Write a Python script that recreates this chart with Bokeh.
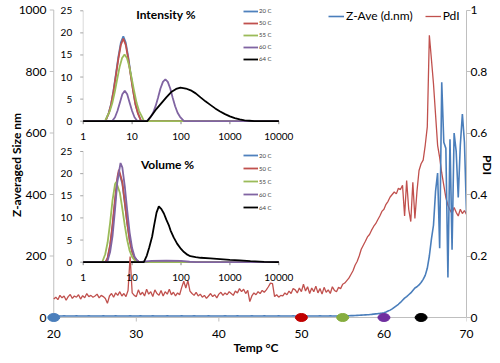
from bokeh.plotting import figure
from bokeh.models import (Range1d, LinearAxis, LogScale, FixedTicker, Label, LabelSet,
                          ColumnDataSource, Legend, LegendItem)
from bokeh.embed import file_html
from bokeh.resources import INLINE
from bokeh.core.properties import value

# ---------------- main series (Temp °C vs Z-Ave and PdI) ----------------
temp = [20, 20.25, 20.5, 20.75, 21, 21.25, 21.5, 21.75, 22, 22.25, 22.5, 22.75, 23, 23.25, 23.5, 23.75, 24, 24.25, 24.5, 24.75,
        25, 25.25, 25.5, 25.75, 26, 26.25, 26.5, 26.75, 27, 27.25, 27.5, 27.75, 28, 28.25, 28.5, 28.75, 29, 29.25, 29.5, 29.75,
        30, 30.25, 30.5, 30.75, 31, 31.25, 31.5, 31.75, 32, 32.25, 32.5, 32.75, 33, 33.25, 33.5, 33.75, 34, 34.25, 34.5, 34.75,
        35, 35.25, 35.5, 35.75, 36, 36.25, 36.5, 36.75, 37, 37.25, 37.5, 37.75, 38, 38.25, 38.5, 38.75, 39, 39.25, 39.5, 39.75,
        40, 40.25, 40.5, 40.75, 41, 41.25, 41.5, 41.75, 42, 42.25, 42.5, 42.75, 43, 43.25, 43.5, 43.75, 44, 44.25, 44.5, 44.75,
        45, 45.25, 45.5, 45.75, 46, 46.25, 46.5, 46.75, 47, 47.25, 47.5, 47.75, 48, 48.25, 48.5, 48.75, 49, 49.25, 49.5, 49.75,
        50, 50.25, 50.5, 50.75, 51, 51.25, 51.5, 51.75, 52, 52.25, 52.5, 52.75, 53, 53.25, 53.5, 53.75, 54, 54.25, 54.5, 54.75,
        55, 55.25, 55.5, 55.75, 56, 56.25, 56.5, 56.75, 57, 57.25, 57.5, 57.75, 58, 58.25, 58.5, 58.75, 59, 59.25, 59.5, 59.75,
        60, 60.25, 60.5, 60.75, 61, 61.25, 61.5, 61.75, 62, 62.25, 62.5, 62.75, 63, 63.25, 63.5, 63.75, 64, 64.25, 64.5, 64.75,
        65, 65.25, 65.5, 65.75, 66, 66.25, 66.5, 66.75, 67, 67.25, 67.5, 67.75, 68, 68.25, 68.5, 68.75, 69, 69.25, 69.5, 69.75,
        70]

pdi = [0.060, 0.066, 0.058, 0.072, 0.064, 0.070, 0.056, 0.068, 0.075, 0.062, 0.070, 0.066, 0.074, 0.060, 0.071, 0.064, 0.078, 0.068, 0.072, 0.066,
       0.070, 0.076, 0.064, 0.072, 0.068, 0.062, 0.046, 0.070, 0.078, 0.066, 0.080, 0.072, 0.084, 0.070, 0.078, 0.068, 0.088, 0.198, 0.080, 0.072,
       0.068, 0.090, 0.074, 0.082, 0.070, 0.092, 0.076, 0.084, 0.068, 0.090, 0.078, 0.072, 0.088, 0.070, 0.084, 0.076, 0.092, 0.074, 0.082, 0.070,
       0.080, 0.074, 0.098, 0.118, 0.096, 0.120, 0.086, 0.078, 0.072, 0.082, 0.070, 0.076, 0.066, 0.072, 0.062, 0.070, 0.078, 0.068, 0.074, 0.064,
       0.076, 0.082, 0.072, 0.080, 0.074, 0.084, 0.078, 0.072, 0.086, 0.080, 0.094, 0.084, 0.092, 0.078, 0.088, 0.052, 0.070, 0.080, 0.074, 0.084,
       0.078, 0.088, 0.082, 0.090, 0.100, 0.112, 0.110, 0.068, 0.074, 0.066, 0.072, 0.070, 0.080, 0.074, 0.086, 0.078, 0.094, 0.090, 0.080, 0.096,
       0.084, 0.108, 0.086, 0.100, 0.078, 0.096, 0.084, 0.102, 0.080, 0.094, 0.076, 0.098, 0.082, 0.090, 0.078, 0.100, 0.088, 0.084, 0.098, 0.094,
       0.108, 0.112, 0.120, 0.128, 0.140, 0.152, 0.170, 0.182, 0.200, 0.222, 0.235, 0.248, 0.262, 0.270, 0.284, 0.296, 0.305, 0.318, 0.330, 0.345,
       0.352, 0.368, 0.378, 0.392, 0.400, 0.408, 0.402, 0.420, 0.416, 0.430, 0.330, 0.445, 0.352, 0.312, 0.440, 0.322, 0.410, 0.478, 0.500, 0.512,
       0.560, 0.620, 0.918, 0.840, 0.760, 0.660, 0.560, 0.520, 0.470, 0.430, 0.390, 0.365, 0.350, 0.338, 0.358, 0.342, 0.330, 0.352, 0.338, 0.348,
       0.335]

z_ave = [5.2, 5.0, 5.1, 4.9, 5.0, 5.2, 5.1, 5.0, 4.9, 5.1, 5.0, 5.2, 5.1, 4.9, 5.0, 5.1, 5.0, 5.2, 5.1, 5.0,
         5.1, 5.0, 4.9, 5.1, 5.2, 5.0, 5.1, 4.9, 5.0, 5.1, 5.2, 5.0, 5.1, 5.0, 4.9, 5.1, 5.0, 5.2, 5.1, 5.0,
         5.0, 5.1, 5.2, 5.0, 4.9, 5.1, 5.0, 5.1, 5.2, 5.0, 5.1, 4.9, 5.0, 5.1, 5.0, 5.2, 5.1, 5.0, 5.0, 5.1,
         5.1, 5.0, 5.2, 5.1, 4.9, 5.0, 5.1, 5.0, 5.2, 5.1, 5.0, 4.9, 5.1, 5.0, 5.1, 5.2, 5.0, 5.1, 5.0, 4.9,
         5.0, 5.1, 5.0, 5.2, 5.1, 5.0, 4.9, 5.1, 5.0, 5.2, 5.1, 5.0, 5.1, 4.9, 5.0, 5.1, 5.2, 5.0, 5.1, 5.0,
         5.1, 5.0, 5.2, 5.1, 5.0, 5.1, 4.9, 5.0, 5.1, 5.2, 5.0, 5.1, 5.0, 5.1, 4.9, 5.0, 5.2, 5.1, 5.0, 5.1,
         5.0, 5.1, 5.2, 5.0, 5.1, 4.9, 5.0, 5.1, 5.0, 5.2, 5.1, 5.0, 5.1, 5.0, 5.2, 5.1, 5.0, 5.1, 5.2, 5.1,
         5.2, 5.4, 5.6, 5.8, 6.0, 6.2, 6.5, 6.9, 7.2, 7.6, 8.0, 8.5, 9.0, 9.5, 10.2, 11.0, 11.8, 12.6, 13.5, 14.5,
         15.6, 18, 21, 24, 28, 33, 38, 43, 49, 56, 63, 68, 74, 80, 88, 96, 100, 106, 114, 124,
         137, 160, 200, 255, 300, 410, 470, 225, 765, 570, 550, 130, 580, 220, 600, 540, 390, 560, 662, 570,
         340]

dot_temp = [20, 50, 55, 60, 64.5]
dot_colors = ["#4A7EBB", "#C00000", "#86AD3F", "#7030A0", "#000000"]

temp_ticks = [20, 30, 40, 50, 60, 70]
size_ticks = [0, 200, 400, 600, 800, 1000]
pdi_ticks = [0, 0.2, 0.4, 0.6, 0.8, 1]
pdi_tick_labels = ["0", "0.2", "0.4", "0.6", "0.8", "1"]

# ---------------- inset series (size nm vs %) ----------------
series_labels = ["20 C", "50 C", "55 C", "60 C", "64 C"]
series_colors = ["#4F81BD", "#C0504D", "#9BBB59", "#8064A2", "#000000"]

int20_d = [1, 2.85, 3.31, 3.72, 4.17, 4.68, 5.25, 5.89, 6.61, 7.41, 8.32, 9.33, 10.5, 11.7, 13.2, 15.3, 10000]
int20_v = [0, 0, 1.8, 3.9, 7.0, 10.8, 14.6, 17.8, 19.2, 17.8, 14.6, 10.8, 7.0, 3.9, 1.8, 0, 0]
int50_d = [1, 2.85, 3.31, 3.72, 4.17, 4.68, 5.25, 5.89, 6.61, 7.41, 8.32, 9.33, 10.5, 11.7, 13.2, 15.3, 10000]
int50_v = [0, 0, 1.7, 3.8, 6.8, 10.5, 14.2, 17.3, 18.7, 17.3, 14.2, 10.5, 6.8, 3.8, 1.7, 0, 0]
int55_d = [1, 2.79, 3.13, 3.51, 3.94, 4.42, 4.95, 5.56, 6.24, 7.0, 7.85, 8.81, 9.89, 11.1, 12.4, 13.9, 15.6, 17.5, 10000]
int55_v = [0, 0, 1.2, 2.3, 4.1, 6.6, 9.5, 12.3, 14.3, 15.1, 14.3, 12.3, 9.5, 6.6, 4.1, 2.3, 1.2, 0, 0]
int60_d = [1, 3.89, 4.47, 5.01, 5.62, 6.31, 7.08, 7.94, 8.91, 10.0, 11.2, 12.9,
           20.0, 24.0, 26.9, 30.2, 33.9, 38.0, 42.7, 47.9, 53.7, 60.3, 67.6, 75.9, 85.1, 95.5, 115, 10000]
int60_v = [0, 0, 0.9, 2.3, 4.2, 6.1, 6.9, 6.1, 4.2, 2.3, 0.9, 0,
           0, 1.0, 1.9, 3.4, 5.3, 7.4, 8.9, 9.5, 8.9, 7.4, 5.3, 3.4, 1.9, 1.0, 0, 0]
int64_d = [1, 20.4, 25.1, 31.6, 39.8, 50.1, 63.1, 79.4, 97.7, 126, 158, 200, 251, 316, 398, 501, 631, 794,
           1000, 1259, 1585, 1995, 2512, 3162, 10000]
int64_v = [0, 0, 1.3, 2.8, 4.1, 5.4, 6.6, 7.3, 7.6, 7.4, 7.0, 6.3, 5.4, 4.5, 3.7, 2.9, 2.2, 1.6,
           1.1, 0.7, 0.4, 0.2, 0.1, 0, 0]

vol20_d = [1, 2.86, 3.16, 3.55, 3.98, 4.47, 5.01, 5.37, 6.31, 7.08, 7.94, 8.91, 10.0, 11.2, 12.6, 14.1, 10000]
vol20_v = [0, 0, 0.9, 3.6, 8.0, 13.5, 18.6, 20.4, 17.8, 13.4, 8.8, 5.0, 2.4, 1.0, 0.4, 0, 0]
vol50_d = [1, 2.86, 3.16, 3.55, 3.98, 4.47, 5.01, 5.37, 6.31, 7.08, 7.94, 8.91, 10.0, 11.2, 12.6, 14.1, 10000]
vol50_v = [0, 0, 1.0, 3.9, 8.6, 14.2, 19.2, 20.9, 18.1, 13.6, 8.9, 5.0, 2.4, 1.0, 0.4, 0, 0]
vol55_d = [1, 2.44, 2.82, 3.16, 3.55, 3.98, 4.47, 4.73, 5.62, 6.31, 7.08, 7.94, 8.91, 10.0, 11.2, 13.2, 10000]
vol55_v = [0, 0, 1.8, 4.5, 8.9, 14.0, 17.6, 18.1, 15.7, 12.1, 8.3, 5.0, 2.6, 1.2, 0.5, 0, 0]
vol60_d = [1, 3.09, 3.55, 3.98, 4.47, 5.01, 5.8, 6.31, 7.08, 7.94, 8.91, 10.0, 11.2, 12.6, 14.1,
           17.0, 25.0, 50.0, 100, 150, 200, 10000]
vol60_v = [0, 0, 2.3, 5.9, 11.8, 18.4, 22.4, 21.4, 17.2, 11.7, 6.7, 3.2, 1.3, 0.4, 0,
           0.1, 0.3, 0.35, 0.3, 0.1, 0, 0]
vol64_d = [1, 17.4, 20.0, 22.4, 25.7, 28.2, 31.6, 35.2, 39.8, 44.7, 50.1, 56.2, 61.0, 70.8, 83.2, 100, 115,
           135, 155, 200, 251, 398, 631, 1000, 1585, 2630, 5012, 9120, 10000]
vol64_v = [0, 0, 1.5, 3.3, 5.8, 8.3, 11.2, 12.6, 12.0, 11.0, 9.6, 8.4, 7.2, 5.6, 4.2, 3.0, 2.3,
           1.7, 1.36, 1.15, 1.0, 0.85, 0.7, 0.53, 0.4, 0.23, 0.08, 0, 0]

inset_x_ticks = [1, 10, 100, 1000, 10000]
inset_x_labels = ["1", "10", "100", "1000", "10000"]
inset_y_ticks = [0, 5, 10, 15, 20, 25]
inset_y_labels = ["0", "5", "10", "15", "20", "25"]

# ---------------- layout constants (canvas pixels) ----------------
W, H = 500, 363
F_L, F_R, F_T, F_B = 45, 466, 6, 323        # frame edges
PX_X20, PX_X70 = 53.25, 466.0               # where temp 20 / 70 sit
PX_Y0, PX_Y1000 = 317.0, 9.5                # where size 0 / 1000 sit
PPX = (PX_X70 - PX_X20) / 50.0
PPY = (PX_Y0 - PX_Y1000) / 1000.0
X_START = 20 - (PX_X20 - F_L) / PPX
X_END = 70 + (F_R - PX_X70) / PPX
Y_START = -(F_B - PX_Y0) / PPY
Y_END = 1000 + (PX_Y1000 - F_T) / PPY
TICK = 4.0

# inset placement: pixel of size=1, px per decade, pixel of y=0, pixel of y=25
INS_X1, INS_PPD = 82.7, 48.9
INT_Y0, INT_Y25 = 120.7, 10.3
VOL_Y0, VOL_Y25 = 261.7, 151.0


def log_range(x1, ppd):
    return Range1d(10 ** ((F_L - x1) / ppd), 10 ** ((F_R - x1) / ppd))


def lin_range(y0, y25):
    ppu = (y0 - y25) / 25.0
    return Range1d((y0 - F_B) / ppu, (y0 - F_T) / ppu)


FONT = "Lato"
AX_COL = "#BFBFBF"

p = figure(width=W, height=H, output_backend="svg", toolbar_location=None,
           x_range=Range1d(X_START, X_END), y_range=Range1d(Y_START, Y_END),
           min_border_left=F_L, min_border_right=W - F_R, min_border_top=F_T, min_border_bottom=H - F_B,
           background_fill_color="white", border_fill_color="white")
p.outline_line_color = None
p.xgrid.visible = False
p.ygrid.visible = False

p.extra_x_ranges = {"dls": log_range(INS_X1, INS_PPD)}
p.extra_x_scales = {"dls": LogScale()}
p.extra_y_ranges = {"pdi": Range1d(Y_START / 1000.0, Y_END / 1000.0),
                    "int": lin_range(INT_Y0, INT_Y25),
                    "vol": lin_range(VOL_Y0, VOL_Y25)}

# standard axes: labels and titles only (lines/ticks drawn at the data origin below)
for ax in (p.xaxis[0], p.yaxis[0]):
    ax.axis_line_color = None
    ax.major_tick_line_color = None
    ax.minor_tick_line_color = None
    ax.major_tick_in = 0
    ax.major_tick_out = 0
    ax.major_label_text_font = FONT
    ax.major_label_text_font_size = "12px"
    ax.major_label_text_color = "#000000"
    ax.axis_label_text_font = FONT
    ax.axis_label_text_font_size = "12px"
    ax.axis_label_text_font_style = "bold"
    ax.axis_label_text_color = "#000000"
p.xaxis[0].ticker = FixedTicker(ticks=temp_ticks)
p.xaxis[0].major_label_standoff = 6
p.xaxis[0].axis_label = "Temp °C"
p.xaxis[0].axis_label_standoff = -1
p.yaxis[0].ticker = FixedTicker(ticks=size_ticks)
p.yaxis[0].major_label_standoff = -1
p.yaxis[0].axis_label = "Z-averaged Size nm"
p.yaxis[0].axis_label_standoff = -8

rax = LinearAxis(y_range_name="pdi", ticker=FixedTicker(ticks=pdi_ticks), bounds=(0, 1),
                 major_label_overrides={t: s for t, s in zip(pdi_ticks, pdi_tick_labels)},
                 axis_line_color=AX_COL, major_tick_line_color=AX_COL, major_tick_in=0,
                 major_tick_out=4, minor_tick_line_color=None, major_label_text_font=FONT,
                 major_label_text_font_size="12px", major_label_text_color="#000000",
                 major_label_standoff=0, axis_label="PDI", axis_label_standoff=-10,
                 axis_label_text_font=FONT, axis_label_text_font_size="12px",
                 axis_label_text_font_style="bold", axis_label_text_color="#000000")
p.add_layout(rax, "right")

# main axis lines and ticks at the origin (20, 0)
p.segment(x0=[temp_ticks[0]], y0=[0], x1=[temp_ticks[-1]], y1=[0], line_color=AX_COL, line_width=1)
p.segment(x0=[temp_ticks[0]], y0=[0], x1=[temp_ticks[0]], y1=[size_ticks[-1]], line_color=AX_COL, line_width=1)
p.segment(x0=temp_ticks, y0=[0] * len(temp_ticks), x1=temp_ticks, y1=[-TICK / PPY] * len(temp_ticks),
          line_color=AX_COL, line_width=1)
p.segment(x0=[temp_ticks[0]] * len(size_ticks), y0=size_ticks,
          x1=[temp_ticks[0] - TICK / PPX] * len(size_ticks), y1=size_ticks,
          line_color=AX_COL, line_width=1)


# ---------------- insets ----------------
def draw_inset(yname, y0px, y25px, dsets, legend_top_px, legend_spacing, title, title_xy):
    ppu = (y0px - y25px) / 25.0
    tick_len_y = 3.0 / ppu
    tick_len_x = 10 ** (-3.0 / INS_PPD)
    p.line(x=[1, 1], y=[0, inset_y_ticks[-1]], x_range_name="dls", y_range_name=yname,
           line_color="#D9D9D9", line_width=1)
    p.segment(x0=[1] * len(inset_y_ticks), y0=inset_y_ticks,
              x1=[tick_len_x] * len(inset_y_ticks), y1=inset_y_ticks,
              x_range_name="dls", y_range_name=yname, line_color="#A6A6A6", line_width=1)
    p.segment(x0=inset_x_ticks, y0=[0] * len(inset_x_ticks), x1=inset_x_ticks,
              y1=[-tick_len_y] * len(inset_x_ticks),
              x_range_name="dls", y_range_name=yname, line_color="#808080", line_width=1)
    p.line(x=[inset_x_ticks[0], inset_x_ticks[-1]], y=[0, 0], x_range_name="dls", y_range_name=yname,
           line_color="#000000", line_width=1.5)
    rends = []
    for (d, v), col in zip(dsets, series_colors):
        r = p.line(x=d, y=v, x_range_name="dls", y_range_name=yname, line_color=col, line_width=1.8)
        rends.append(r)
    xl = ColumnDataSource(dict(x=inset_x_ticks, y=[0] * len(inset_x_ticks), t=inset_x_labels))
    p.add_layout(LabelSet(x="x", y="y", text="t", source=xl, x_range_name="dls", y_range_name=yname,
                          y_offset=-15, text_align="center", text_baseline="middle",
                          text_font=value(FONT), text_font_size="10px", text_color="#000000"))
    yl = ColumnDataSource(dict(x=[1] * len(inset_y_ticks), y=inset_y_ticks, t=inset_y_labels))
    p.add_layout(LabelSet(x="x", y="y", text="t", source=yl, x_range_name="dls", y_range_name=yname,
                          x_offset=-11, text_align="right", text_baseline="middle",
                          text_font=value(FONT), text_font_size="10px", text_color="#000000"))
    n = len(series_labels)
    leg_h = n * 8 + (n - 1) * legend_spacing
    leg = Legend(items=[LegendItem(label=l, renderers=[r]) for l, r in zip(series_labels, rends)],
                 location=(243 - F_L, F_B - (legend_top_px + leg_h)), orientation="vertical",
                 glyph_width=15, glyph_height=8, label_height=8, label_standoff=1,
                 spacing=legend_spacing, padding=0, margin=0,
                 label_text_font=FONT, label_text_font_size="6px", label_text_color="#404040",
                 background_fill_alpha=0, border_line_alpha=0)
    p.add_layout(leg, "center")
    p.add_layout(Label(x=title_xy[0] - F_L, y=F_B - title_xy[1], x_units="screen", y_units="screen",
                       text=title, text_align="center", text_baseline="middle",
                       text_font=FONT, text_font_size="12px", text_font_style="bold",
                       text_color="#000000"))


draw_inset("int", INT_Y0, INT_Y25,
           [(int20_d, int20_v), (int50_d, int50_v), (int55_d, int55_v), (int60_d, int60_v), (int64_d, int64_v)],
           6.5, 4, "Intensity %", (165.5, 14))
draw_inset("vol", VOL_Y0, VOL_Y25,
           [(vol20_d, vol20_v), (vol50_d, vol50_v), (vol55_d, vol55_v), (vol60_d, vol60_v), (vol64_d, vol64_v)],
           151, 5, "Volume %", (167, 164))

# ---------------- main lines ----------------
pdi_r = p.line(x=temp, y=pdi, y_range_name="pdi", line_color="#C0504D", line_width=1.3)
z_r = p.line(x=temp, y=z_ave, line_color="#4A7EBB", line_width=1.6)

dots = ColumnDataSource(dict(x=dot_temp, y=[0] * len(dot_temp), c=dot_colors))
p.ellipse(x="x", y="y", width=12, height=8, width_units="screen", height_units="screen",
          fill_color="c", line_color="c", source=dots)

main_leg = Legend(items=[LegendItem(label="Z-Ave (d.nm)", renderers=[z_r]),
                         LegendItem(label="PdI", renderers=[pdi_r])],
                  location=(328 - F_L, F_B - 23), orientation="horizontal",
                  glyph_width=16, glyph_height=14, label_height=14, label_standoff=2,
                  spacing=12, padding=0, margin=0,
                  label_text_font=FONT, label_text_font_size="12px", label_text_color="#000000",
                  background_fill_alpha=0, border_line_alpha=0)
p.add_layout(main_leg, "center")

with open("out.html", "w", encoding="utf-8") as f:
    f.write(file_html(p, INLINE))
